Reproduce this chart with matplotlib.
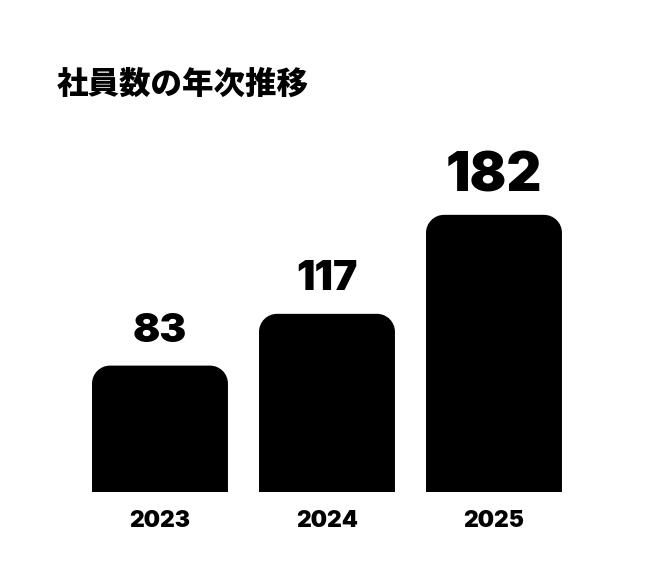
import matplotlib
matplotlib.use("Agg")
import matplotlib.pyplot as plt
from matplotlib.path import Path
from matplotlib.patches import PathPatch

years = ["2023", "2024", "2025"]
employees = [83, 117, 182]
title = "社員数の年次推移"

# the last (current) year's label is drawn bigger, as in the reference
label_sizes = [29, 29.5, 39]
RADIUS_PX = 18
NUM_FONT = ["Inter", "Liberation Sans", "DejaVu Sans"]


def roundedTopPath(x0, x1, y0, y1, rx, ry):
    """Bar outline with the two top corners rounded (elliptical in data units)."""
    c = 0.5523
    verts = [
        (x0, y0), (x0, y1 - ry),
        (x0, y1 - ry + c * ry), (x0 + rx - c * rx, y1), (x0 + rx, y1),
        (x1 - rx, y1),
        (x1 - rx + c * rx, y1), (x1, y1 - ry + c * ry), (x1, y1 - ry),
        (x1, y0), (x0, y0),
    ]
    codes = [Path.MOVETO, Path.LINETO,
             Path.CURVE4, Path.CURVE4, Path.CURVE4,
             Path.LINETO,
             Path.CURVE4, Path.CURVE4, Path.CURVE4,
             Path.LINETO, Path.CLOSEPOLY]
    return Path(verts, codes)


fig = plt.figure(figsize=(6.56, 5.84), dpi=100)
ax = fig.add_axes([0.1166, 92 / 584, 501 / 656, 300 / 584])
ax.set_xlim(-0.5, 2.5)
ax.set_ylim(0, 197)
ax.axis("off")

bars = ax.bar(range(len(years)), employees, width=0.814, color="black")

# px -> data units for the corner radius
px_x = 501 / 3.0
px_y = 300 / 197.0
rx = RADIUS_PX / px_x
ry = RADIUS_PX / px_y

for b, val, size in zip(bars, employees, label_sizes):
    x0 = b.get_x()
    x1 = x0 + b.get_width()
    h = b.get_height()
    b.set_visible(False)
    ax.add_patch(PathPatch(roundedTopPath(x0, x1, 0, h, rx, ry),
                           facecolor="black", edgecolor="none"))
    ax.annotate(str(val), (x0 + b.get_width() / 2, h), xytext=(0, 17),
                textcoords="offset points", ha="center", va="baseline",
                fontsize=size, fontweight="black", family=NUM_FONT)

for i, y in enumerate(years):
    ax.annotate(y, (i, 0), xytext=(0, -13), textcoords="offset points",
                ha="center", va="top", fontsize=16.5, fontweight="black",
                family=NUM_FONT)

fig.text(57 / 656, 1 - 67 / 584, title, ha="left", va="top", fontsize=22.7,
         fontweight="black", family=["Noto Sans CJK JP", "DejaVu Sans"])

fig.savefig("out.png", dpi=100, facecolor="white")
